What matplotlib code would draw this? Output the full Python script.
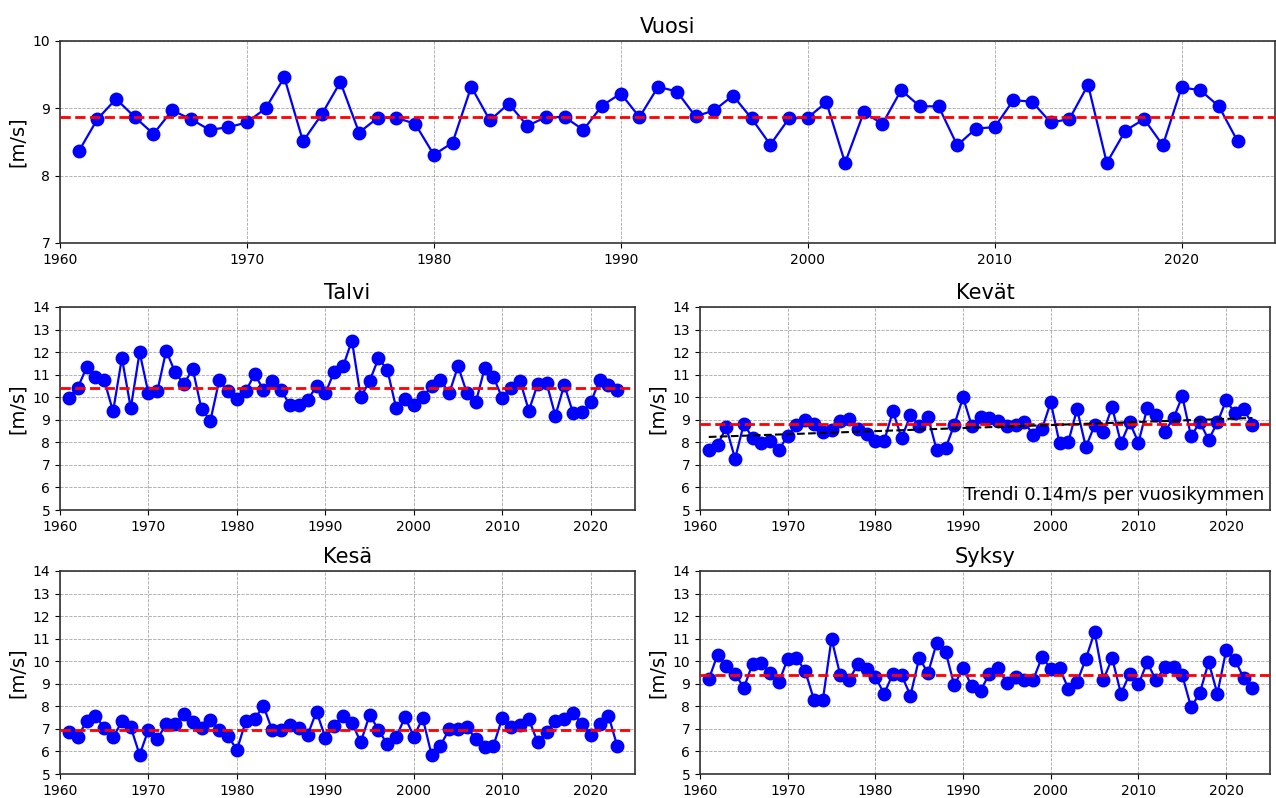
import numpy as np
import matplotlib
matplotlib.use("Agg")
import matplotlib.pyplot as plt

vuodet = np.arange(1961, 2024)

vuosi = [8.36, 8.84, 9.14, 8.87, 8.62, 8.97, 8.84, 8.68, 8.72, 8.79,
         9.00, 9.46, 8.51, 8.91, 9.39, 8.64, 8.86, 8.86, 8.77, 8.31,
         8.49, 9.32, 8.82, 9.07, 8.74, 8.87, 8.87, 8.68, 9.04, 9.22,
         8.87, 9.32, 9.25, 8.88, 8.97, 9.19, 8.85, 8.46, 8.85, 8.86,
         9.09, 8.19, 8.94, 8.77, 9.27, 9.03, 9.03, 8.45, 8.70, 8.72,
         9.12, 9.10, 8.79, 8.84, 9.35, 8.19, 8.67, 8.84, 8.45, 9.31,
         9.27, 9.03, 8.51]

talvi = [9.98, 10.41, 11.32, 10.88, 10.75, 9.37, 11.74, 9.52, 11.99, 10.17,
         10.26, 12.06, 11.12, 10.58, 11.26, 9.47, 8.96, 10.75, 10.26, 9.93,
         10.26, 11.03, 10.33, 10.70, 10.30, 9.65, 9.67, 9.89, 10.48, 10.18,
         11.13, 11.37, 12.51, 10.00, 10.72, 11.72, 11.22, 9.52, 9.92, 9.65,
         10.00, 10.48, 10.78, 10.18, 11.38, 10.18, 9.77, 11.28, 10.89, 9.96,
         10.43, 10.73, 9.41, 10.58, 10.63, 9.18, 10.55, 9.30, 9.33, 9.77,
         10.76, 10.54, 10.33]

kevat = [7.64, 7.89, 8.66, 7.27, 8.82, 8.19, 7.96, 8.08, 7.67, 8.29,
         8.78, 8.97, 8.82, 8.44, 8.53, 8.93, 9.04, 8.59, 8.35, 8.07,
         8.07, 9.37, 8.19, 9.22, 8.73, 9.12, 7.64, 7.74, 8.78, 9.99,
         8.73, 9.12, 9.07, 8.96, 8.73, 8.78, 8.88, 8.33, 8.59, 9.78,
         7.96, 8.02, 9.47, 7.79, 8.75, 8.48, 9.56, 7.96, 8.88, 7.99,
         9.52, 9.22, 8.48, 9.07, 10.04, 8.26, 8.90, 8.11, 8.88, 9.86,
         9.30, 9.47, 8.79]

kesa = [6.84, 6.63, 7.34, 7.57, 7.05, 6.63, 7.33, 7.08, 5.85, 6.96,
        6.56, 7.20, 7.20, 7.67, 7.30, 7.05, 7.40, 6.93, 6.68, 6.07,
        7.34, 7.45, 8.01, 6.93, 6.93, 7.18, 7.05, 6.74, 7.77, 6.60,
        7.15, 7.59, 7.27, 6.41, 7.62, 6.97, 6.31, 6.63, 7.52, 6.66,
        7.48, 5.86, 6.26, 6.98, 7.00, 7.08, 6.56, 6.19, 6.26, 7.48,
        7.08, 7.18, 7.42, 6.41, 6.88, 7.34, 7.45, 7.71, 7.22, 6.75,
        7.20, 7.59, 6.23]

syksy = [9.19, 10.29, 9.78, 9.44, 8.82, 9.89, 9.93, 9.49, 9.07, 10.11,
         10.15, 9.56, 8.29, 8.26, 11.00, 9.37, 9.18, 9.86, 9.64, 9.30,
         8.56, 9.44, 9.37, 8.48, 10.15, 9.47, 10.82, 10.43, 8.93, 9.71,
         8.88, 8.70, 9.44, 9.70, 9.03, 9.30, 9.18, 9.18, 10.18, 9.67,
         9.71, 8.78, 9.07, 10.11, 11.29, 9.18, 10.14, 8.56, 9.44, 8.97,
         9.96, 9.15, 9.74, 9.74, 9.37, 7.96, 8.59, 9.96, 8.56, 10.48,
         10.07, 9.25, 8.81]

# vertailukausi 1991-2020
vertailu = (vuodet >= 1991) & (vuodet <= 2020)

W, H = 1276, 798
fig = plt.figure(figsize=(W / 100, H / 100), dpi=100)


def px_axes(left, top, right, bottom):
    return fig.add_axes([left / W, 1 - bottom / H, (right - left) / W, (bottom - top) / H])


def piirra(ax, arvot, otsikko, ylim):
    arvot = np.array(arvot)
    ax.plot(vuodet, arvot, "-o", color="blue", markersize=9, linewidth=1.6, zorder=3)
    ax.axhline(arvot[vertailu].mean(), color="red", linestyle="--", linewidth=2, zorder=4)
    ax.set_xlim(1960, 2025)
    ax.set_ylim(*ylim)
    ax.set_yticks(np.arange(ylim[0], ylim[1] + 1, 1))
    ax.set_xticks(np.arange(1960, 2030, 10))
    ax.grid(True, linestyle="--", linewidth=0.6, color="gray", alpha=0.7)
    ax.set_title(otsikko, fontsize=15)
    ax.set_ylabel("[m/s]", fontsize=14)
    ax.tick_params(labelsize=10)
    for s in ax.spines.values():
        s.set_linewidth(1.2)
        s.set_color("#333333")


ax0 = px_axes(60, 41, 1275, 243)
piirra(ax0, vuosi, "Vuosi", (7, 10))

ax1 = px_axes(60, 307, 635, 510)
piirra(ax1, talvi, "Talvi", (5, 14))

ax2 = px_axes(700, 307, 1270, 510)
piirra(ax2, kevat, "Kevät", (5, 14))
p = np.polyfit(vuodet, kevat, 1)
ax2.plot(vuodet, np.polyval(p, vuodet), "k--", linewidth=1.5, zorder=4)
ax2.text(0.99, 0.03, "Trendi 0.14m/s per vuosikymmen", transform=ax2.transAxes,
         ha="right", va="bottom", fontsize=13)

ax3 = px_axes(60, 571, 635, 774)
piirra(ax3, kesa, "Kesä", (5, 14))

ax4 = px_axes(700, 571, 1270, 774)
piirra(ax4, syksy, "Syksy", (5, 14))

fig.savefig("out.png", dpi=100)
